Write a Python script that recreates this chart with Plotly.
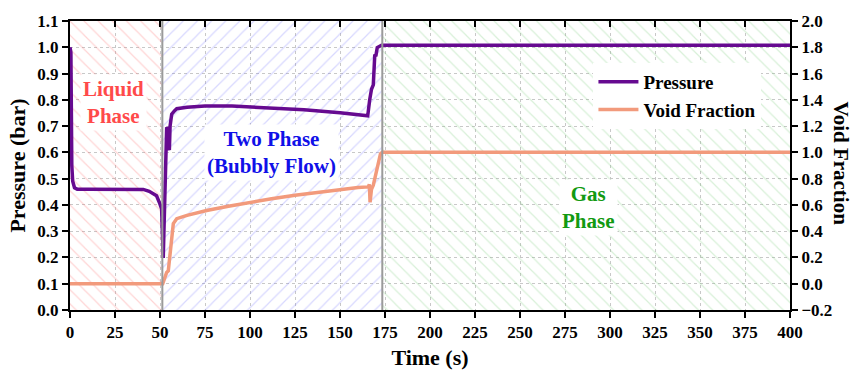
import plotly.graph_objects as go

# ---- data ----
time_p = [0, 0.5, 1.0, 1.5, 2.5, 4.0, 10, 20, 30, 40.7, 44, 48.1, 49.6, 50.9, 51.8, 52.6,
          53.7, 54.2, 55.2, 55.6, 56.5, 58, 59.3, 65, 75, 90, 100, 113, 130, 150, 160,
          165.4, 166.5, 167.5, 168.5, 169.3, 170, 170.7, 173.1, 200, 300, 400]
pressure = [1.0, 0.98, 0.55, 0.49, 0.465, 0.46, 0.46, 0.46, 0.46, 0.459, 0.452, 0.435, 0.41,
            0.385, 0.198, 0.45, 0.695, 0.69, 0.608, 0.70, 0.745, 0.758, 0.766, 0.772, 0.776,
            0.776, 0.773, 0.77, 0.762, 0.751, 0.745, 0.739, 0.80, 0.84, 0.857, 0.968, 0.97,
            0.999, 1.008, 1.008, 1.008, 1.008]

time_v = [0, 51.5, 53.7, 54.6, 57.4, 59.3, 65, 75.9, 88, 100, 112, 125, 138, 150, 160,
          165.7, 166.3, 166.7, 167.5, 168.5, 170.5, 172.5, 173.5, 200, 300, 400]
void_fraction = [0, 0, 0.086, 0.098, 0.458, 0.495, 0.52, 0.558, 0.59, 0.62, 0.647, 0.674,
                 0.697, 0.719, 0.732, 0.737, 0.756, 0.62, 0.72, 0.75, 0.87, 0.99, 1.0, 1.0,
                 1.0, 1.0]

phase_bounds = [0, 51.3, 173.5, 400]
phase_names = ["Liquid<br>Phase", "Two Phase<br>(Bubbly Flow)", "Gas<br>Phase"]
phase_label_pos = [(24, 0.79), (112, 0.60), (288, 0.39)]
phase_colors = ["#ff4a4a", "#1010e8", "#129a12"]
hatch_colors = ["rgba(255,110,110,0.6)", "rgba(110,110,255,0.55)", "rgba(110,200,110,0.55)"]
hatch_shapes = ["\\", "/", "\\"]

x_ticks = list(range(0, 401, 25))

FONT = "Liberation Serif"

fig = go.Figure()

# hatched phase regions
for i in range(3):
    x0, x1 = phase_bounds[i], phase_bounds[i + 1]
    fig.add_trace(go.Bar(
        x=[(x0 + x1) / 2], y=[1.1], base=[0], width=[x1 - x0],
        marker=dict(color="rgba(0,0,0,0)", line=dict(width=0),
                    pattern=dict(shape=hatch_shapes[i], fgcolor=hatch_colors[i],
                                 bgcolor="rgba(255,255,255,0)", size=10, solidity=0.12)),
        showlegend=False, hoverinfo="skip", yaxis="y"))

fig.add_trace(go.Scatter(x=time_p, y=pressure, mode="lines", name="Pressure",
                         line=dict(color="#660a90", width=3.5), yaxis="y"))
fig.add_trace(go.Scatter(x=time_v, y=void_fraction, mode="lines", name="Void Fraction",
                         line=dict(color="#f29a7c", width=3.5), yaxis="y2"))
# top axis carrier (inward ticks on top frame)
fig.add_trace(go.Scatter(x=[], y=[], xaxis="x2", showlegend=False))

for b in phase_bounds[1:3]:
    fig.add_shape(type="line", x0=b, x1=b, y0=0, y1=1, xref="x", yref="paper",
                  line=dict(color="#9a9a9a", width=2))

for i in range(3):
    fig.add_annotation(x=phase_label_pos[i][0], y=phase_label_pos[i][1], xref="x", yref="y",
                       text="<b>" + phase_names[i] + "</b>", showarrow=False,
                       font=dict(family=FONT, size=21, color=phase_colors[i]),
                       bgcolor="white", borderpad=2)

fig.add_annotation(x=1.09, y=0.508, xref="paper", yref="paper", text="<b>Void Fraction</b>",
                   textangle=90, showarrow=False, font=dict(family=FONT, size=21, color="black"))

tickfont = dict(family=FONT, size=17, color="black", weight="bold")
axis_common = dict(showline=True, linecolor="black", linewidth=2, ticks="outside",
                   ticklen=6, tickwidth=2, tickcolor="black", tickfont=tickfont, zeroline=False)

fig.update_layout(
    width=852, height=378,
    margin=dict(l=70, r=62, t=15, b=68),
    plot_bgcolor="white", paper_bgcolor="white",
    font=dict(family=FONT, color="black"),
    bargap=0,
    xaxis=dict(range=[0, 400], tickvals=x_ticks, showgrid=True, gridcolor="#c8c8c8",
               griddash="dot", gridwidth=1,
               title=dict(text="<b>Time (s)</b>", font=dict(family=FONT, size=22), standoff=8),
               **axis_common),
    xaxis2=dict(range=[0, 400], overlaying="x", side="top", tickvals=x_ticks,
                showticklabels=False, showline=True, linecolor="black", linewidth=2,
                ticks="inside", ticklen=6, tickwidth=2, tickcolor="black", showgrid=False,
                zeroline=False, anchor="y"),
    yaxis=dict(range=[0, 1.1], dtick=0.1, tickformat=".1f", showgrid=True, gridcolor="#c8c8c8",
               griddash="dot", gridwidth=1,
               title=dict(text="<b>Pressure (bar)</b>", font=dict(family=FONT, size=22), standoff=6),
               **axis_common),
    yaxis2=dict(range=[-0.2, 2.0], dtick=0.2, tickformat=".1f", overlaying="y", side="right",
                showgrid=False, **axis_common),
    legend=dict(x=0.727, y=0.855, xanchor="left", yanchor="top", bgcolor="white",
                font=dict(family=FONT, size=19, color="black", weight="bold"),
                itemwidth=40, tracegroupgap=0),
)

fig.write_html("out.html")
